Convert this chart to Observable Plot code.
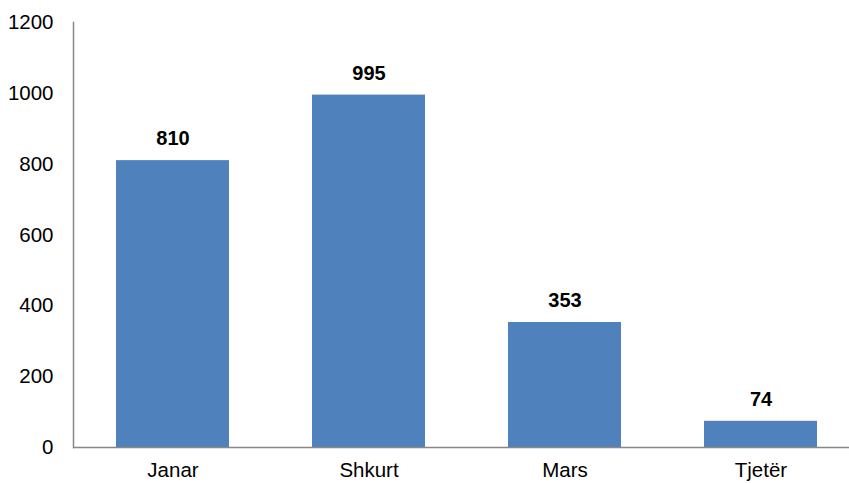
<!DOCTYPE html>
<html>
<head>
<meta charset="utf-8">
<script src="https://cdn.jsdelivr.net/npm/d3@7"></script>
<script src="https://cdn.jsdelivr.net/npm/@observablehq/plot@0.6"></script>
<style>
  html, body { margin: 0; padding: 0; background: #fff; }
  svg { display: block; }
</style>
</head>
<body>
<div id="chart"></div>
<script>
const categories = ["Janar", "Shkurt", "Mars", "Tjetër"];
const values = [810, 995, 353, 74];
const yTicks = [0, 200, 400, 600, 800, 1000, 1200];

const data = categories.map((c, i) => ({ month: c, value: values[i] }));

const chart = Plot.plot({
  width: 849,
  height: 483,
  marginLeft: 73,
  marginRight: -10,
  marginTop: 22,
  marginBottom: 36,
  style: { fontFamily: "Liberation Sans, Arial, sans-serif", fontSize: "20.5px", color: "#000", background: "#fff" },
  x: { domain: categories, paddingInner: 0.425, paddingOuter: 0.2125, label: null },
  y: { domain: [0, 1200], label: null },
  marks: [
    Plot.barY(data, { x: "month", y: "value", fill: "#4F81BD" }),
    Plot.text(data, { x: "month", y: "value", text: d => String(d.value), dy: -22, fontWeight: "bold", fontSize: 20, fill: "#000" }),
    Plot.axisY({ ticks: yTicks, tickFormat: d => String(d), tickSize: 0, tickPadding: 20, label: null, fontSize: 20.5 }),
    Plot.axisX({ tickSize: 0, tickPadding: 15, label: null, fontSize: 20.5 }),
    Plot.ruleY([0], { stroke: "#888", strokeWidth: 1.5 }),
    Plot.frame({ anchor: "left", stroke: "#888", strokeWidth: 1.5 })
  ]
});
document.getElementById("chart").appendChild(chart);
</script>
</body>
</html>
